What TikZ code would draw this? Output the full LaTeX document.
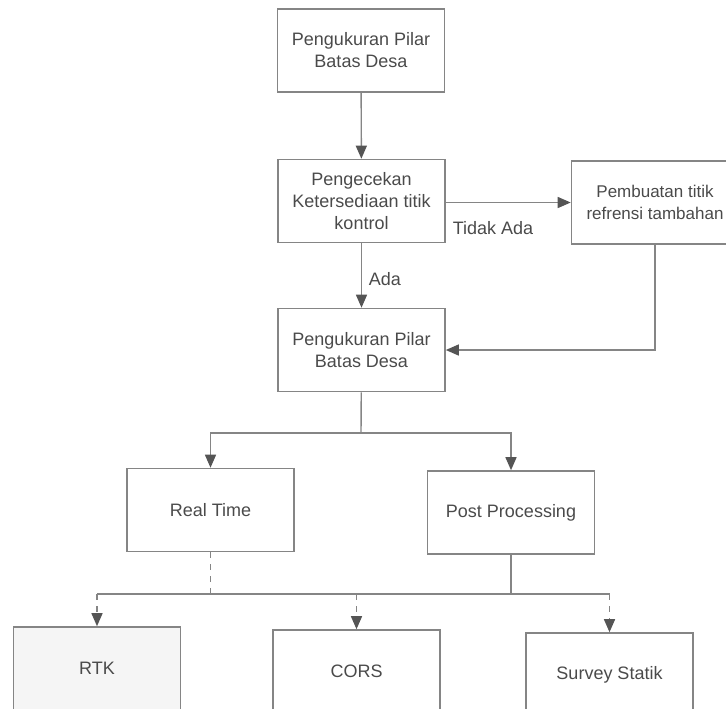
\documentclass[tikz,border=0pt]{standalone}
\usepackage{fontspec}
\setmainfont{Liberation Sans}
\usetikzlibrary{arrows.meta}
\definecolor{linegray}{HTML}{858585}
\definecolor{tipgray}{HTML}{555555}
\definecolor{textgray}{HTML}{4A4A4A}
\begin{document}
\begin{tikzpicture}[x=0.5pt,y=-0.5pt,
        box/.style={draw=linegray,line width=0.8pt,minimum width=83.5pt,minimum height=41.5pt,
            align=center,text=textgray,font=\fontsize{9}{11}\selectfont},
        link/.style={draw=linegray,line width=0.7pt},
        tip/.style={-{Triangle[length=6.5pt,width=5.5pt,color=tipgray]}},
        lbl/.style={text=textgray,font=\fontsize{9}{11}\selectfont}]
        \clip (0,0) rectangle (726,708);

        % top part
        \node[box] (ukur1) at (361,50.5) {Pengukuran Pilar\\Batas Desa};
        \node[box] (cek) at (361.5,201) {Pengecekan\\Ketersediaan titik\\kontrol};
        \node[box,font=\fontsize{8.5}{11}\selectfont] (tambah) at (655,202.5) {Pembuatan titik\\refrensi tambahan};
        \node[box] (ukur2) at (361.5,350) {Pengukuran Pilar\\Batas Desa};

        \draw[link,tip] (ukur1) -- (cek);
        \draw[link,tip] (cek.east |- tambah.west) -- (tambah.west);
        \node[lbl] (tidak) at (493,228) {Tidak Ada};
        \draw[link,tip] (cek) -- node[lbl,right,pos=0.55] (ada) {Ada} (ukur2);
        \draw[link,tip] (tambah.south) |- (ukur2.east);

        % methods
        \node[box] (realtime) at (210.5,510) {Real Time};
        \node[box] (post) at (511,512.5) {Post Processing};
        \coordinate (split1) at (361,433);
        \draw[link] (ukur2) -- (split1);
        \draw[link,tip] (split1) -| (realtime.north);
        \draw[link,tip] (split1) -| (post.north);

        % bottom row
        \node[box,fill=gray!8] (rtk) at (97,668.5) {RTK};
        \node[box] (cors) at (356.5,671.5) {CORS};
        \node[box] (survey) at (609.5,674.5) {Survey Statik};
        \coordinate (split2) at (361,594);
        \draw[link,dashed] (realtime.south) -- (realtime.south |- split2);
        \draw[link] (post.south) -- (post.south |- split2);
        \draw[link] (rtk.north |- split2) -- (survey.north |- split2);
        \foreach \n in {rtk,cors,survey} {
            \draw[link,tip,dashed] (\n.north |- split2) -- (\n.north);
        }
    \end{tikzpicture}
\end{document}
